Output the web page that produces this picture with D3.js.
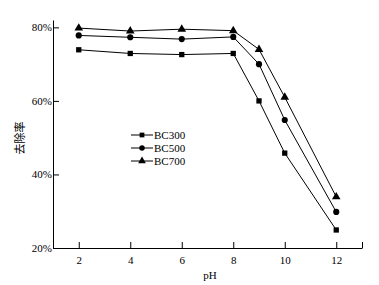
<!DOCTYPE html>
<html>
<head>
<meta charset="utf-8">
<script src="https://cdn.jsdelivr.net/npm/d3@7"></script>
<style>
  body { margin: 0; background: #fff; }
  svg text { font-family: "Liberation Serif", "DejaVu Serif", serif; fill: #000; }
</style>
</head>
<body>
<div id="chart"></div>
<script>
// data
var phValues = [2, 4, 6, 8, 9, 10, 12];
var bc300 = [73.9, 72.9, 72.6, 72.9, 60, 45.8, 24.9];
var bc500 = [77.8, 77.3, 76.8, 77.4, 70, 54.8, 29.8];
var bc700 = [79.8, 79.0, 79.5, 79.1, 74, 61, 33.9];
var seriesNames = ["BC300", "BC500", "BC700"];
var xTicks = [2, 4, 6, 8, 10, 12];
var yTicks = [20, 40, 60, 80];

var width = 379, height = 285;
var margin = {top: 20, right: 17, bottom: 37, left: 53};

var svg = d3.select("#chart")
  .append("svg")
    .attr("width", width)
    .attr("height", height);

var x = d3.scaleLinear()
    .domain([1, 13])
    .range([margin.left, width - margin.right]);

var y = d3.scaleLinear()
    .domain([20, 82])
    .range([height - margin.bottom, margin.top]);

// x axis, ticks point inward
var xAxis = svg.append("g")
    .attr("transform", "translate(0," + (height - margin.bottom) + ")")
    .call(d3.axisBottom(x).tickValues(xTicks.concat([13])).tickSizeInner(-6).tickSizeOuter(0)
      .tickFormat(function(d) { return d === 13 ? "" : d; }));
xAxis.selectAll("text").attr("dy", "0").attr("y", 16).style("font-size", "11px");
xAxis.selectAll("line, path").attr("stroke", "#000");

// y axis
var yAxis = svg.append("g")
    .attr("transform", "translate(" + margin.left + ",0)")
    .call(d3.axisLeft(y).tickValues(yTicks).tickSizeInner(-6).tickSizeOuter(0)
      .tickFormat(function(d) { return d + "%"; }));
yAxis.selectAll("text").attr("x", -1).style("font-size", "11px");
yAxis.selectAll("line, path").attr("stroke", "#000");

// axis titles
svg.append("text")
    .attr("x", x(7.1))
    .attr("y", 279)
    .attr("text-anchor", "middle")
    .style("font-size", "11px")
    .text("pH");

svg.append("text")
    .attr("transform", "translate(24,138) rotate(-90)")
    .attr("text-anchor", "middle")
    .style("font-family", "'Noto Sans CJK SC', sans-serif")
    .style("font-size", "11px")
    .text("去除率");

var allSeries = [bc300, bc500, bc700];
var symbols = [d3.symbolSquare, d3.symbolCircle, d3.symbolTriangle];
var symbolSizes = [28, 30, 32];

var line = d3.line()
    .x(function(d, i) { return x(phValues[i]); })
    .y(function(d) { return y(d); });

allSeries.forEach(function(vals, k) {
  svg.append("path")
      .datum(vals)
      .attr("fill", "none")
      .attr("stroke", "#000")
      .attr("stroke-width", 1)
      .attr("d", line);

  svg.selectAll(".pt" + k)
    .data(vals)
    .enter().append("path")
      .attr("class", "pt" + k)
      .attr("d", d3.symbol().type(symbols[k]).size(symbolSizes[k]))
      .attr("transform", function(d, i) { return "translate(" + x(phValues[i]) + "," + y(d) + ")"; })
      .attr("fill", "#000");
});

// legend
var legend = svg.append("g").attr("transform", "translate(131,135)");
seriesNames.forEach(function(name, k) {
  var g = legend.append("g").attr("transform", "translate(0," + (k * 13) + ")");
  g.append("line").attr("x1", 0).attr("x2", 22).attr("y1", 0).attr("y2", 0)
    .attr("stroke", "#000");
  g.append("path")
    .attr("d", d3.symbol().type(symbols[k]).size(symbolSizes[k] * 0.8))
    .attr("transform", "translate(11,0)")
    .attr("fill", "#000");
  g.append("text").attr("x", 23).attr("y", 4).style("font-size", "11px").text(name);
});
</script>
</body>
</html>
